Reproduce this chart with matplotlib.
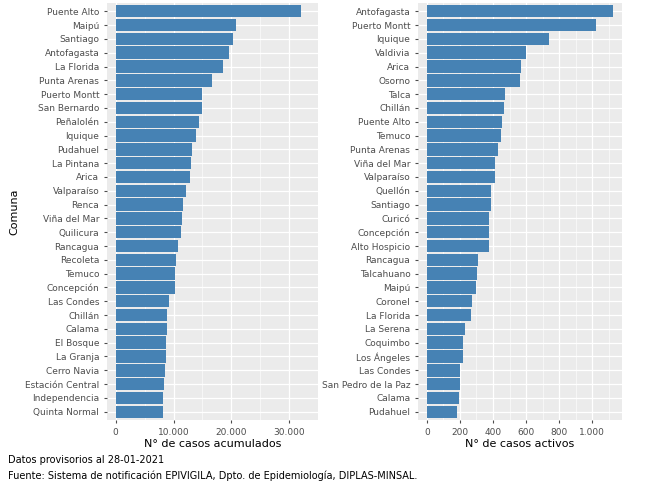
import matplotlib.pyplot as plt
from matplotlib.ticker import FuncFormatter

comunas_acum = ["Puente Alto", "Maipú", "Santiago", "Antofagasta", "La Florida", "Punta Arenas",
                "Puerto Montt", "San Bernardo", "Peñalolén", "Iquique", "Pudahuel", "La Pintana",
                "Arica", "Valparaíso", "Renca", "Viña del Mar", "Quilicura", "Rancagua", "Recoleta",
                "Temuco", "Concepción", "Las Condes", "Chillán", "Calama", "El Bosque", "La Granja",
                "Cerro Navia", "Estación Central", "Independencia", "Quinta Normal"]
casos_acum = [32000, 20800, 20300, 19600, 18500, 16700, 15000, 14900, 14400, 13900, 13200, 13000,
              12900, 12200, 11600, 11400, 11300, 10700, 10400, 10200, 10200, 9300, 8900, 8800,
              8700, 8700, 8600, 8300, 8100, 8100]

comunas_act = ["Antofagasta", "Puerto Montt", "Iquique", "Valdivia", "Arica", "Osorno", "Talca",
               "Chillán", "Puente Alto", "Temuco", "Punta Arenas", "Viña del Mar", "Valparaíso",
               "Quellón", "Santiago", "Curicó", "Concepción", "Alto Hospicio", "Rancagua",
               "Talcahuano", "Maipú", "Coronel", "La Florida", "La Serena", "Coquimbo",
               "Los Ángeles", "Las Condes", "San Pedro de la Paz", "Calama", "Pudahuel"]
casos_act = [1125, 1024, 738, 601, 571, 565, 470, 464, 452, 446, 428, 411, 411, 387, 387, 375,
             375, 375, 310, 304, 298, 274, 268, 232, 220, 220, 202, 202, 196, 185]

fmt = FuncFormatter(lambda v, p: f"{int(v):,}".replace(",", "."))

fig = plt.figure(figsize=(6.5, 4.87), dpi=100)
ax1 = fig.add_axes([107 / 650, 1 - 420 / 487, 211 / 650, 417 / 487])
ax2 = fig.add_axes([418 / 650, 1 - 420 / 487, 204 / 650, 417 / 487])

for ax, names, vals, xlabel, ticks, xmax in [
        (ax1, comunas_acum, casos_acum, "N° de casos acumulados", [0, 10000, 20000, 30000], 33600),
        (ax2, comunas_act, casos_act, "N° de casos activos", [0, 200, 400, 600, 800, 1000], 1180)]:
    y = list(range(len(names)))[::-1]
    ax.set_facecolor("#ebebeb")
    ax.barh(y, vals, height=0.9, color="#4682b4", zorder=3)
    ax.set_yticks(y)
    ax.set_yticklabels(names, fontsize=6.5, color="#4d4d4d")
    ax.set_ylim(-0.6, len(names) - 0.4)
    ax.set_xlim(-xmax * 0.045, xmax)
    ax.set_xticks(ticks)
    minor = [(ticks[i] + ticks[i + 1]) / 2 for i in range(len(ticks) - 1)]
    minor.append(ticks[-1] + (ticks[1] - ticks[0]) / 2)
    ax.set_xticks(minor, minor=True)
    ax.xaxis.set_major_formatter(fmt)
    ax.tick_params(axis="x", labelsize=6.5, colors="#4d4d4d", length=2)
    ax.tick_params(axis="x", which="minor", length=0)
    ax.tick_params(axis="y", length=2, colors="#4d4d4d")
    ax.grid(axis="x", which="major", color="white", linewidth=0.9, zorder=0)
    ax.grid(axis="x", which="minor", color="white", linewidth=0.4, zorder=0)
    ax.grid(axis="y", color="white", linewidth=0.9, zorder=0)
    for s in ax.spines.values():
        s.set_visible(False)
    ax.set_xlabel(xlabel, fontsize=8, labelpad=2)

ax1.set_ylabel("Comuna", fontsize=8)

fig.text(8 / 650, 1 - 460 / 487, "Datos provisorios al 28-01-2021", fontsize=7, va="center")
fig.text(8 / 650, 1 - 476 / 487,
         "Fuente: Sistema de notificación EPIVIGILA, Dpto. de Epidemiología, DIPLAS-MINSAL.",
         fontsize=7, va="center")

fig.savefig("out.png", dpi=100)
